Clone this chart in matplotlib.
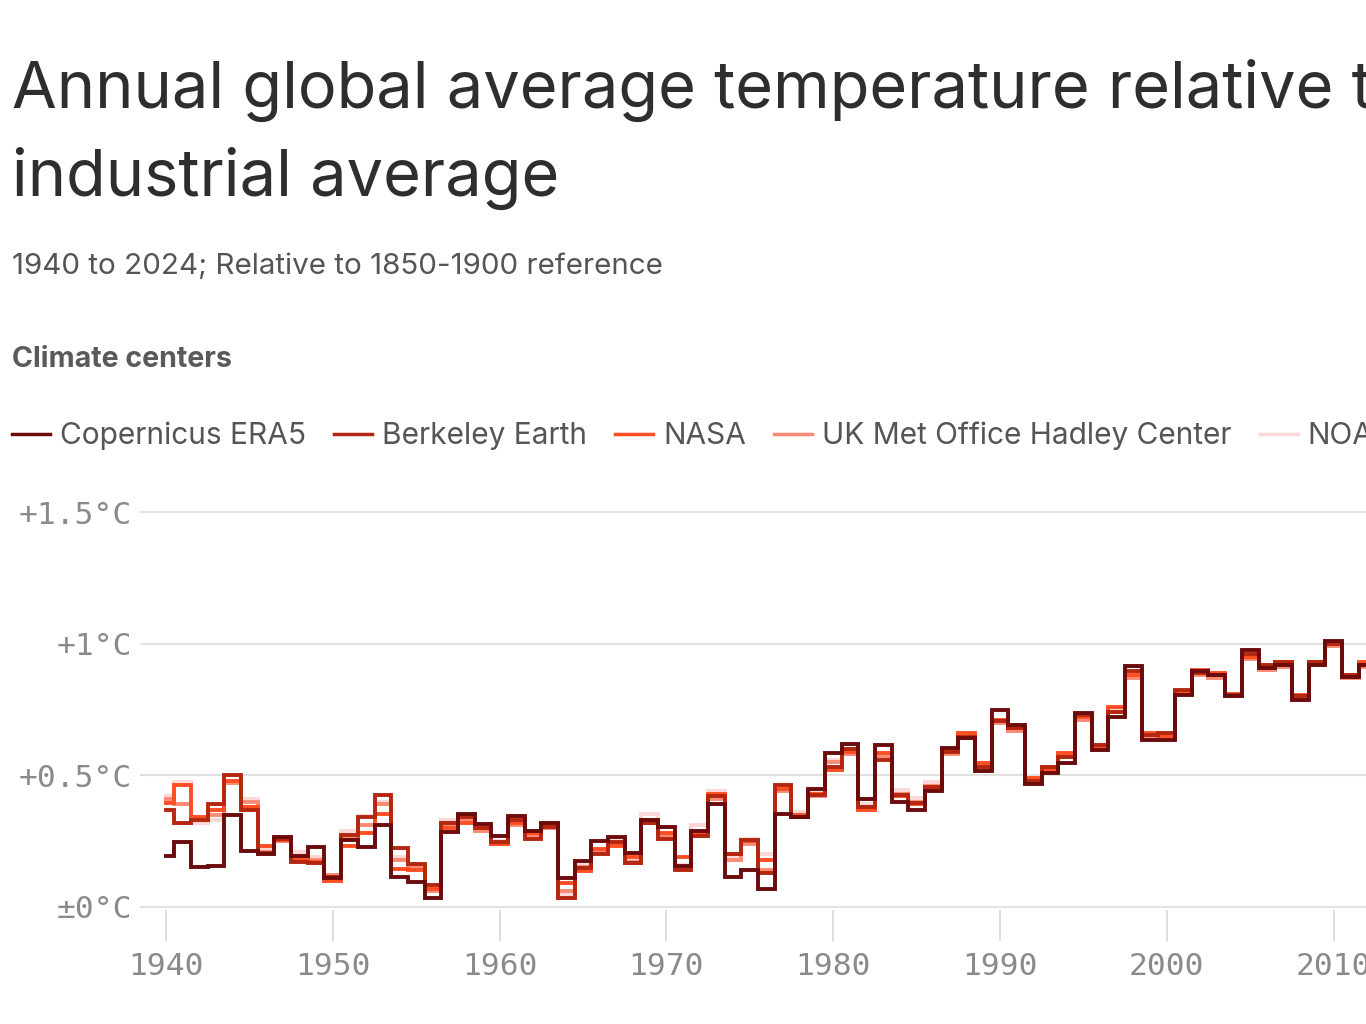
import matplotlib
matplotlib.use("Agg")
import matplotlib.pyplot as plt
from matplotlib.lines import Line2D

# values (deg C above 1850-1900)
years = list(range(1940, 2013))

era5 = [0.195, 0.245, 0.152, 0.155, 0.35, 0.213, 0.20, 0.265, 0.195, 0.228,
        0.11, 0.255, 0.228, 0.31, 0.115, 0.095, 0.035, 0.285, 0.355, 0.315,
        0.27, 0.345, 0.29, 0.32, 0.11, 0.175, 0.25, 0.265, 0.205, 0.33,
        0.305, 0.155, 0.29, 0.39, 0.115, 0.14, 0.07, 0.355, 0.34, 0.45,
        0.585, 0.62, 0.41, 0.615, 0.40, 0.37, 0.44, 0.605, 0.64, 0.515,
        0.75, 0.69, 0.467, 0.51, 0.547, 0.735, 0.595, 0.72, 0.915, 0.635,
        0.635, 0.805, 0.895, 0.88, 0.80, 0.977, 0.908, 0.92, 0.787, 0.92,
        1.01, 0.875, 0.92]
berkeley = [0.37, 0.32, 0.33, 0.39, 0.50, 0.37, 0.205, 0.26, 0.17, 0.168,
            0.115, 0.274, 0.34, 0.425, 0.225, 0.163, 0.083, 0.32, 0.34, 0.30,
            0.245, 0.33, 0.26, 0.305, 0.035, 0.148, 0.20, 0.245, 0.167, 0.32,
            0.26, 0.14, 0.27, 0.42, 0.20, 0.255, 0.13, 0.465, 0.34, 0.425,
            0.53, 0.60, 0.38, 0.56, 0.425, 0.395, 0.455, 0.59, 0.645, 0.53,
            0.705, 0.68, 0.48, 0.53, 0.57, 0.73, 0.615, 0.74, 0.895, 0.655,
            0.66, 0.825, 0.89, 0.88, 0.805, 0.96, 0.92, 0.93, 0.80, 0.93,
            1.0, 0.88, 0.92]
nasa = [0.395, 0.465, 0.34, 0.37, 0.48, 0.38, 0.23, 0.255, 0.18, 0.17,
        0.10, 0.23, 0.28, 0.355, 0.145, 0.14, 0.07, 0.30, 0.32, 0.30,
        0.24, 0.32, 0.28, 0.31, 0.09, 0.135, 0.22, 0.23, 0.19, 0.32,
        0.28, 0.19, 0.28, 0.43, 0.20, 0.25, 0.18, 0.45, 0.35, 0.43,
        0.52, 0.59, 0.37, 0.585, 0.42, 0.39, 0.45, 0.60, 0.66, 0.545,
        0.71, 0.68, 0.49, 0.52, 0.585, 0.72, 0.61, 0.76, 0.88, 0.66,
        0.65, 0.82, 0.90, 0.89, 0.81, 0.95, 0.91, 0.93, 0.805, 0.93,
        1.0, 0.88, 0.93]
hadley = [0.41, 0.39, 0.33, 0.35, 0.47, 0.40, 0.21, 0.25, 0.19, 0.18,
          0.12, 0.26, 0.31, 0.39, 0.18, 0.15, 0.06, 0.31, 0.33, 0.29,
          0.24, 0.31, 0.27, 0.30, 0.06, 0.15, 0.21, 0.24, 0.17, 0.33,
          0.27, 0.15, 0.27, 0.41, 0.18, 0.24, 0.14, 0.44, 0.34, 0.42,
          0.55, 0.58, 0.38, 0.57, 0.43, 0.40, 0.46, 0.58, 0.64, 0.53,
          0.70, 0.67, 0.48, 0.52, 0.57, 0.71, 0.60, 0.74, 0.87, 0.65,
          0.64, 0.81, 0.88, 0.87, 0.80, 0.94, 0.90, 0.91, 0.79, 0.92,
          0.99, 0.87, 0.91]
noaa = [0.42, 0.475, 0.32, 0.33, 0.48, 0.41, 0.22, 0.26, 0.21, 0.19,
        0.11, 0.29, 0.345, 0.40, 0.19, 0.15, 0.07, 0.33, 0.34, 0.31,
        0.25, 0.33, 0.28, 0.32, 0.05, 0.16, 0.22, 0.25, 0.18, 0.355,
        0.28, 0.16, 0.31, 0.44, 0.19, 0.26, 0.20, 0.45, 0.36, 0.44,
        0.56, 0.60, 0.39, 0.58, 0.445, 0.415, 0.475, 0.60, 0.65, 0.54,
        0.71, 0.68, 0.49, 0.53, 0.58, 0.72, 0.61, 0.75, 0.88, 0.66,
        0.65, 0.82, 0.89, 0.88, 0.80, 0.95, 0.91, 0.92, 0.80, 0.93,
        1.0, 0.88, 0.92]

names = ["Copernicus ERA5", "Berkeley Earth", "NASA",
         "UK Met Office Hadley Center", "NOAA"]
series = [era5, berkeley, nasa, hadley, noaa]
colors = ["#6b0b0b", "#b3260f", "#ff4f22", "#f98a74", "#fdd6d6"]

y_ticks = [0, 0.5, 1, 1.5]
y_labels = ["\u00b10\u00b0C", "+0.5\u00b0C", "+1\u00b0C", "+1.5\u00b0C"]
x_ticks = [1940, 1950, 1960, 1970, 1980, 1990, 2000, 2010]

W, H = 1366, 1024
fig = plt.figure(figsize=(W / 100, H / 100), dpi=100)
fig.patch.set_facecolor("white")

# axes run off the right edge, like the cropped original
ax = fig.add_axes([140 / W, 1 - 910 / H, 1 - 140 / W, (910 - 500) / H])
ax.set_xlim(1940 - 26 / 16.68, 1940 + (W - 166) / 16.68)
ax.set_ylim(-3 / 263.3, 1.5 + 12 / 263.3)

# lightest first so the dark ERA5 line sits on top
for i in range(len(series) - 1, -1, -1):
    ax.plot(years, series[i], drawstyle="steps-mid", color=colors[i],
            lw=2.8, solid_joinstyle="miter", zorder=3 + (5 - i))

ax.set_yticks(y_ticks)
ax.set_yticklabels(y_labels)
ax.set_xticks(x_ticks)
ax.set_xticklabels([str(x) for x in x_ticks])
ax.grid(axis="y", color="#e2e2e2", lw=1.5)
ax.set_axisbelow(True)
for s in ax.spines.values():
    s.set_visible(False)
mono = "DejaVu Sans Mono"
ax.tick_params(axis="y", length=0, pad=6, labelsize=22.5, labelcolor="#8a8a8a")
ax.tick_params(axis="x", direction="out", length=22, width=1.4, color="#dddddd",
               pad=8, labelsize=22.5, labelcolor="#8a8a8a")
for lab in ax.get_xticklabels() + ax.get_yticklabels():
    lab.set_family(mono)

# titles
sans = "Inter"
fig.text(12 / W, 1 - 108 / H, "Annual global average temperature relative to pre-",
         fontsize=46.7, color="#2e2e2e", family=sans, va="baseline")
fig.text(12 / W, 1 - 196 / H, "industrial average",
         fontsize=46.7, color="#2e2e2e", family=sans, va="baseline")
fig.text(12 / W, 1 - 274 / H, "1940 to 2024; Relative to 1850-1900 reference",
         fontsize=21.3, color="#555555", family=sans, va="baseline")
fig.text(12 / W, 1 - 367 / H, "Climate centers", fontsize=20.6, color="#5a5a5a",
         family=sans, weight="bold", va="baseline")

# legend row
fig.canvas.draw()
renderer = fig.canvas.get_renderer()
x = 12
ly = 1 - 434 / H
for name, c in zip(names, colors):
    fig.add_artist(Line2D([x / W, (x + 38) / W], [ly, ly], color=c, lw=2.5,
                          transform=fig.transFigure))
    t = fig.text((x + 48) / W, 1 - 444 / H, name, fontsize=21.5, color="#555555",
                 family=sans, va="baseline")
    bb = t.get_window_extent(renderer)
    x = bb.x1 + 28

fig.savefig("out.png", dpi=100, facecolor="white")
